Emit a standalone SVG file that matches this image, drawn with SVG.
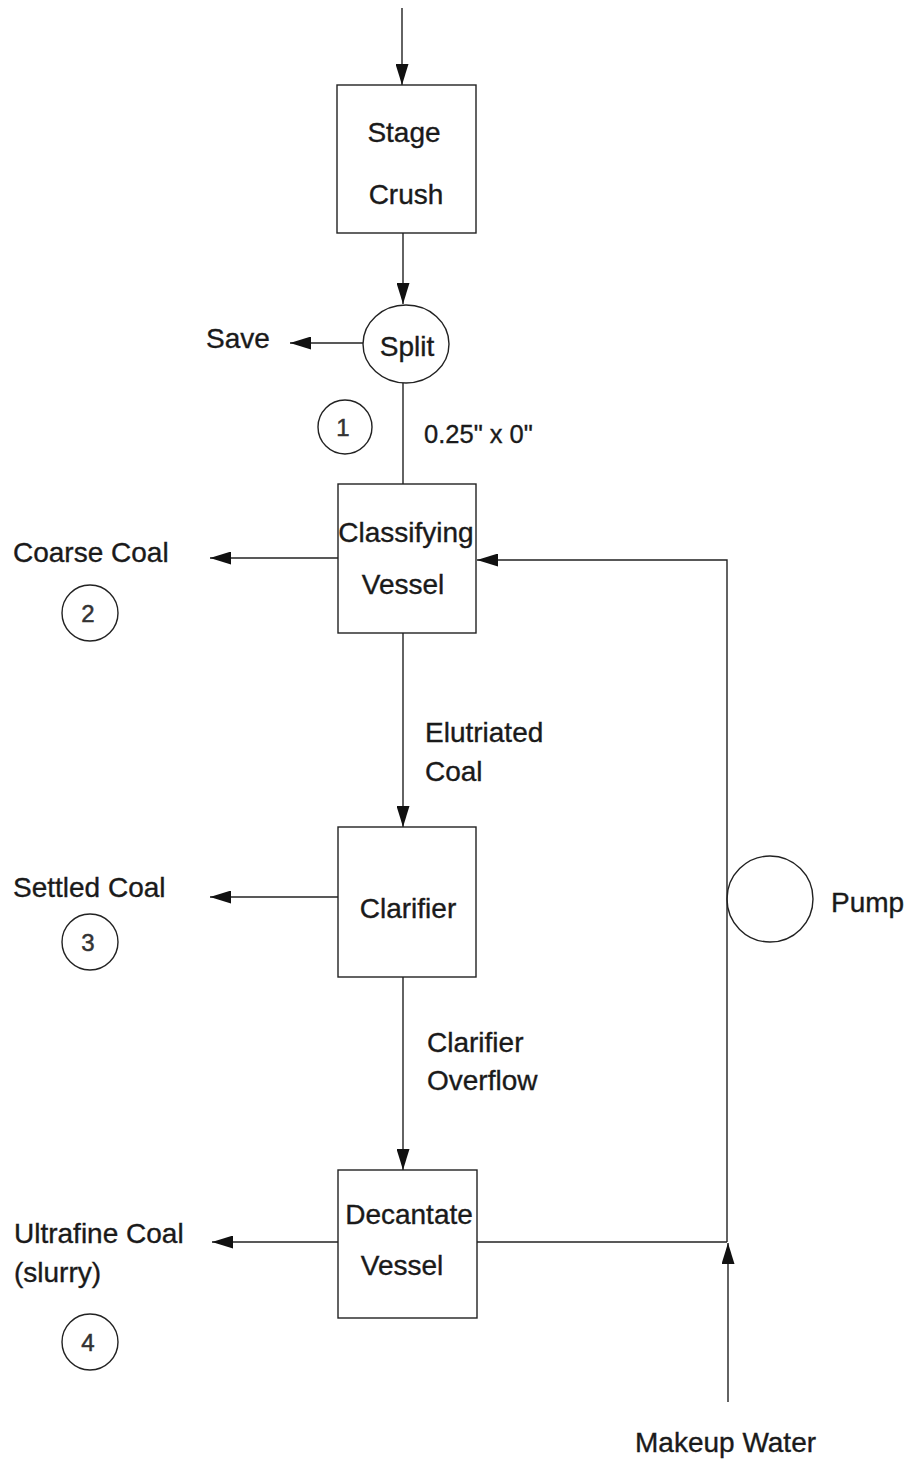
<svg xmlns="http://www.w3.org/2000/svg" width="910" height="1460" viewBox="0 0 910 1460">
<style>
.ln{stroke:#222;stroke-width:1.4;fill:none}
.bx{stroke:#222;stroke-width:1.4;fill:none}
.t{font-family:"Liberation Sans",Arial,sans-serif;font-size:28px;fill:#1a1a1a;stroke:#1a1a1a;stroke-width:0.35}
.n{font-family:"Liberation Sans",Arial,sans-serif;font-size:24px;fill:#333;stroke:#333;stroke-width:0.5;text-anchor:middle}
.c{text-anchor:middle}
</style>
<defs>
<marker id="ah" markerUnits="userSpaceOnUse" markerWidth="22" markerHeight="13" refX="21" refY="6.5" orient="auto">
<path d="M0,0 L21,6.5 L0,13 z" fill="#111"/>
</marker>
</defs>
<rect width="910" height="1460" fill="#fff"/>
<g id="connectors">
<line class="ln" x1="402" y1="8" x2="402" y2="85" marker-end="url(#ah)"/>
<line class="ln" x1="403" y1="233" x2="403" y2="304" marker-end="url(#ah)"/>
<line class="ln" x1="363" y1="343" x2="290" y2="343" marker-end="url(#ah)"/>
<line class="ln" x1="403" y1="383" x2="403" y2="484"/>
<line class="ln" x1="338" y1="558" x2="210" y2="558" marker-end="url(#ah)"/>
<polyline class="ln" points="727,1242 727,560 477,560" marker-end="url(#ah)"/>
<line class="ln" x1="403" y1="633" x2="403" y2="827" marker-end="url(#ah)"/>
<line class="ln" x1="338" y1="897" x2="210" y2="897" marker-end="url(#ah)"/>
<line class="ln" x1="403" y1="977" x2="403" y2="1170" marker-end="url(#ah)"/>
<line class="ln" x1="338" y1="1242" x2="212" y2="1242" marker-end="url(#ah)"/>
<line class="ln" x1="477" y1="1242" x2="727" y2="1242"/>
<line class="ln" x1="728" y1="1402" x2="728" y2="1243" marker-end="url(#ah)"/>
</g>
<g id="stage-crush">
<rect class="bx" x="337" y="85" width="139" height="148"/>
<text class="t c" x="404" y="142">Stage</text>
<text class="t c" x="406" y="204">Crush</text>
</g>
<g id="split">
<ellipse class="bx" cx="406" cy="344" rx="43" ry="39"/>
<text class="t c" x="407" y="356">Split</text>
</g>
<g id="save"><text class="t" x="206" y="348">Save</text></g>
<g id="stream1">
<circle class="bx" cx="345" cy="427" r="27"/>
<text class="n" x="343" y="436">1</text>
</g>
<g id="size-label"><text class="t" x="424" y="443" style="font-size:25.5px">0.25" x 0"</text></g>
<g id="classifying-vessel">
<rect class="bx" x="338" y="484" width="138" height="149"/>
<text class="t c" x="406" y="542">Classifying</text>
<text class="t c" x="403" y="594">Vessel</text>
</g>
<g id="coarse-coal">
<text class="t" x="13" y="562">Coarse Coal</text>
<circle class="bx" cx="90" cy="613" r="28"/>
<text class="n" x="88" y="622">2</text>
</g>
<g id="elutriated-label">
<text class="t" x="425" y="742">Elutriated</text>
<text class="t" x="425" y="781">Coal</text>
</g>
<g id="clarifier">
<rect class="bx" x="338" y="827" width="138" height="150"/>
<text class="t c" x="408" y="918">Clarifier</text>
</g>
<g id="settled-coal">
<text class="t" x="13" y="897">Settled Coal</text>
<circle class="bx" cx="90" cy="942" r="28"/>
<text class="n" x="88" y="951">3</text>
</g>
<g id="pump">
<circle class="bx" cx="770" cy="899" r="43"/>
<text class="t" x="831" y="912">Pump</text>
</g>
<g id="overflow-label">
<text class="t" x="427" y="1052">Clarifier</text>
<text class="t" x="427" y="1090">Overflow</text>
</g>
<g id="decantate-vessel">
<rect class="bx" x="338" y="1170" width="139" height="148"/>
<text class="t c" x="409" y="1224">Decantate</text>
<text class="t c" x="402" y="1275">Vessel</text>
</g>
<g id="ultrafine-coal">
<text class="t" x="14" y="1243">Ultrafine Coal</text>
<text class="t" x="14" y="1282">(slurry)</text>
<circle class="bx" cx="90" cy="1342" r="28"/>
<text class="n" x="88" y="1351">4</text>
</g>
<g id="makeup-water"><text class="t" x="635" y="1452">Makeup Water</text></g>
</svg>
